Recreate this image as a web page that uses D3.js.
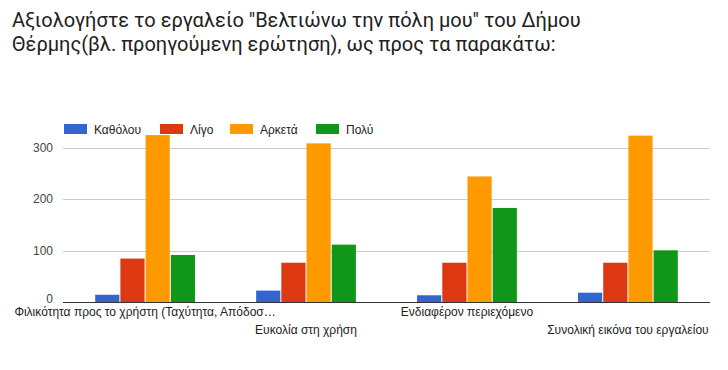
<!DOCTYPE html>
<html><head><meta charset="utf-8">
<script src="https://cdn.jsdelivr.net/npm/d3@7"></script>
<style>body{margin:0;background:#fff}svg{display:block}</style>
</head><body>
<script>
const titleLines = ["Αξιολογήστε το εργαλείο \"Βελτιώνω την πόλη μου\" του Δήμου", "Θέρμης(βλ. προηγούμενη ερώτηση), ως προς τα παρακάτω:"];
const categories = ["Φιλικότητα προς το χρήστη (Ταχύτητα, Απόδοσ…", "Ευκολία στη χρήση", "Ενδιαφέρον περιεχόμενο", "Συνολική εικόνα του εργαλείου"];
const seriesNames = ["Καθόλου", "Λίγο", "Αρκετά", "Πολύ"];
const seriesColors = ["#3366cc", "#dc3912", "#ff9900", "#109618"];
const kathólou = [15, 23, 14, 19];
const ligo = [85, 77, 77, 77];
const arketa = [324, 308, 244, 323];
const poly = [92, 112, 183, 101];
const yTicks = [0, 100, 200, 300];
const seriesValues = [kathólou, ligo, arketa, poly];

const W = 728, H = 370;
const svg = d3.select("body").append("svg").attr("width", W).attr("height", H);

svg.selectAll("text.title").data(titleLines).enter().append("text")
  .attr("x", 12).attr("y", (d, i) => 27 + i * 24)
  .attr("font-family", "Roboto, sans-serif").attr("font-size", 20).attr("fill", "#212121")
  .text(d => d);

const left = 63, right = 710;
const y = d3.scaleLinear().domain([0, 300]).range([302.5, 147.5]);
const x0 = d3.scaleBand().domain(categories).range([left, right]).paddingInner(0.38).paddingOuter(0.2);
const x1 = d3.scaleBand().domain(seriesNames).range([0, x0.bandwidth()]).paddingInner(0.04);

// gridlines
svg.selectAll("line.grid").data(yTicks.filter(d => d > 0)).enter().append("line")
  .attr("x1", left).attr("x2", right).attr("y1", d => Math.round(y(d)) + 0.5).attr("y2", d => Math.round(y(d)) + 0.5)
  .attr("stroke", "#cccccc").attr("stroke-width", 1);

// y tick labels
svg.selectAll("text.ytick").data(yTicks).enter().append("text")
  .attr("x", 53).attr("y", d => y(d) + (d === 0 ? 0.5 : 4)).attr("text-anchor", "end")
  .attr("font-family", "Arial, 'Liberation Sans', sans-serif").attr("font-size", 12).attr("fill", "#444")
  .text(d => d);

// bars
const groups = svg.selectAll("g.grp").data(categories).enter().append("g")
  .attr("transform", d => `translate(${x0(d)},0)`);
groups.selectAll("rect").data((c, ci) => seriesNames.map((s, si) => ({s, si, v: seriesValues[si][ci]})))
  .enter().append("rect")
  .attr("x", d => x1(d.s)).attr("width", x1.bandwidth())
  .attr("y", d => y(d.v)).attr("height", d => y(0) - y(d.v))
  .attr("fill", d => seriesColors[d.si]);

// baseline
svg.append("line").attr("x1", left).attr("x2", right).attr("y1", 302.5).attr("y2", 302.5)
  .attr("stroke", "#333").attr("stroke-width", 1);

// category labels (alternating rows)
svg.selectAll("text.cat").data(categories).enter().append("text")
  .attr("x", d => x0(d) + x0.bandwidth() / 2).attr("y", (d, i) => i % 2 === 0 ? 316 : 334)
  .attr("text-anchor", "middle")
  .attr("font-family", "Arial, 'Liberation Sans', sans-serif").attr("font-size", 12).attr("fill", "#222")
  .text(d => d);

// legend
const legendX = [64, 160, 230, 316];
const lg = svg.selectAll("g.leg").data(seriesNames).enter().append("g")
  .attr("transform", (d, i) => `translate(${legendX[i]},124)`);
lg.append("rect").attr("width", 23).attr("height", 10).attr("fill", (d, i) => seriesColors[i]);
lg.append("text").attr("x", 30).attr("y", 9.5)
  .attr("font-family", "Arial, 'Liberation Sans', sans-serif").attr("font-size", 12).attr("fill", "#222")
  .text(d => d);
</script>
</body></html>
